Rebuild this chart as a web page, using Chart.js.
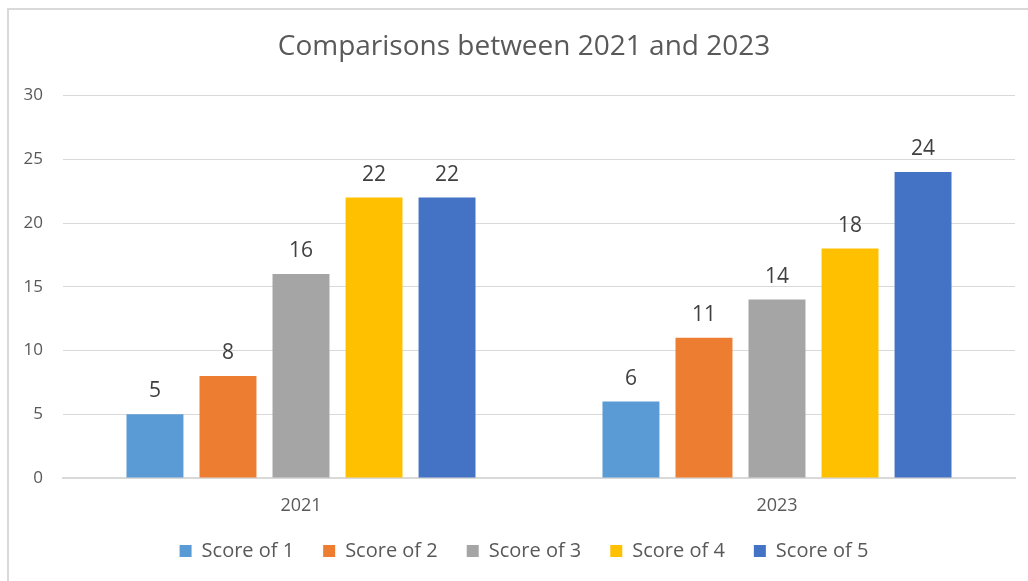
<!DOCTYPE html>
<html>
<head>
<meta charset="utf-8">
<script src="https://cdn.jsdelivr.net/npm/chart.js@4"></script>
<style>
  html, body { margin: 0; padding: 0; background: #fff; overflow: hidden; }
  #frame { position: absolute; left: 7px; top: 8px; width: 1100px; height: 1000px; border: 2px solid #d9d9d9; }
  #chart { position: absolute; left: 0; top: 0; }
</style>
</head>
<body>
<div id="frame"></div>
<canvas id="chart" width="1028" height="581"></canvas>
<script>
// categories and series
var years = ['2021', '2023'];
var seriesNames = ['Score of 1', 'Score of 2', 'Score of 3', 'Score of 4', 'Score of 5'];
var score1 = [5, 6];
var score2 = [8, 11];
var score3 = [16, 14];
var score4 = [22, 18];
var score5 = [22, 24];
var seriesColors = ['#5B9BD5', '#ED7D31', '#A5A5A5', '#FFC000', '#4472C4'];

var FONT = "'Open Sans', 'Liberation Sans', sans-serif";

// value labels above the bars
var barLabels = {
	id: 'barLabels',
	afterDatasetsDraw: function(chart) {
		var c = chart.ctx;
		c.save();
		c.font = '21px ' + FONT;
		c.fillStyle = '#404040';
		c.textAlign = 'center';
		c.textBaseline = 'middle';
		chart.data.datasets.forEach(function(ds, i) {
			chart.getDatasetMeta(i).data.forEach(function(bar, j) {
				c.fillText(ds.data[j], bar.x, bar.y - 23);
			});
		});
		c.restore();
	}
};

var allData = [score1, score2, score3, score4, score5];
var datasets = seriesNames.map(function(name, i) {
	return {
		label: name,
		data: allData[i],
		backgroundColor: seriesColors[i],
		borderWidth: 0,
		categoryPercentage: 0.767,
		barPercentage: 0.78
	};
});

var ctx = document.getElementById('chart').getContext('2d');
var chart = new Chart(ctx, {
	type: 'bar',
	data: { labels: years, datasets: datasets },
	options: {
		responsive: false,
		animation: false,
		devicePixelRatio: 1,
		layout: { padding: { left: 20, right: 0, top: 0, bottom: 10 } },
		plugins: {
			tooltip: { enabled: false },
			title: {
				display: true,
				text: 'Comparisons between 2021 and 2023',
				color: '#595959',
				font: { family: FONT, size: 28, weight: 'normal' },
				padding: { top: 30, bottom: 32 }
			},
			legend: {
				position: 'bottom',
				labels: {
					color: '#595959',
					font: { family: FONT, size: 20 },
					boxWidth: 12,
					boxHeight: 12,
					padding: 29
				}
			}
		},
		scales: {
			x: {
				grid: { display: false, drawTicks: false },
				border: { display: true, color: '#d9d9d9', width: 2 },
				ticks: { color: '#595959', font: { family: FONT, size: 18 }, padding: 17 },
				afterFit: function(s) { s.height = 34; }
			},
			y: {
				min: 0,
				max: 30,
				ticks: { stepSize: 5, color: '#595959', font: { family: FONT, size: 17 }, padding: 20 },
				grid: { color: '#d9d9d9', lineWidth: 1, drawTicks: false },
				border: { display: false },
				afterFit: function(s) { s.width = 43; }
			},
			// empty right-hand margin so the title and legend centre slightly right
			spacer: {
				type: 'linear',
				position: 'right',
				grid: { display: false, drawTicks: false },
				border: { display: false },
				ticks: { display: false },
				afterFit: function(s) { s.width = 13; }
			}
		}
	},
	plugins: [barLabels]
});
</script>
</body>
</html>
